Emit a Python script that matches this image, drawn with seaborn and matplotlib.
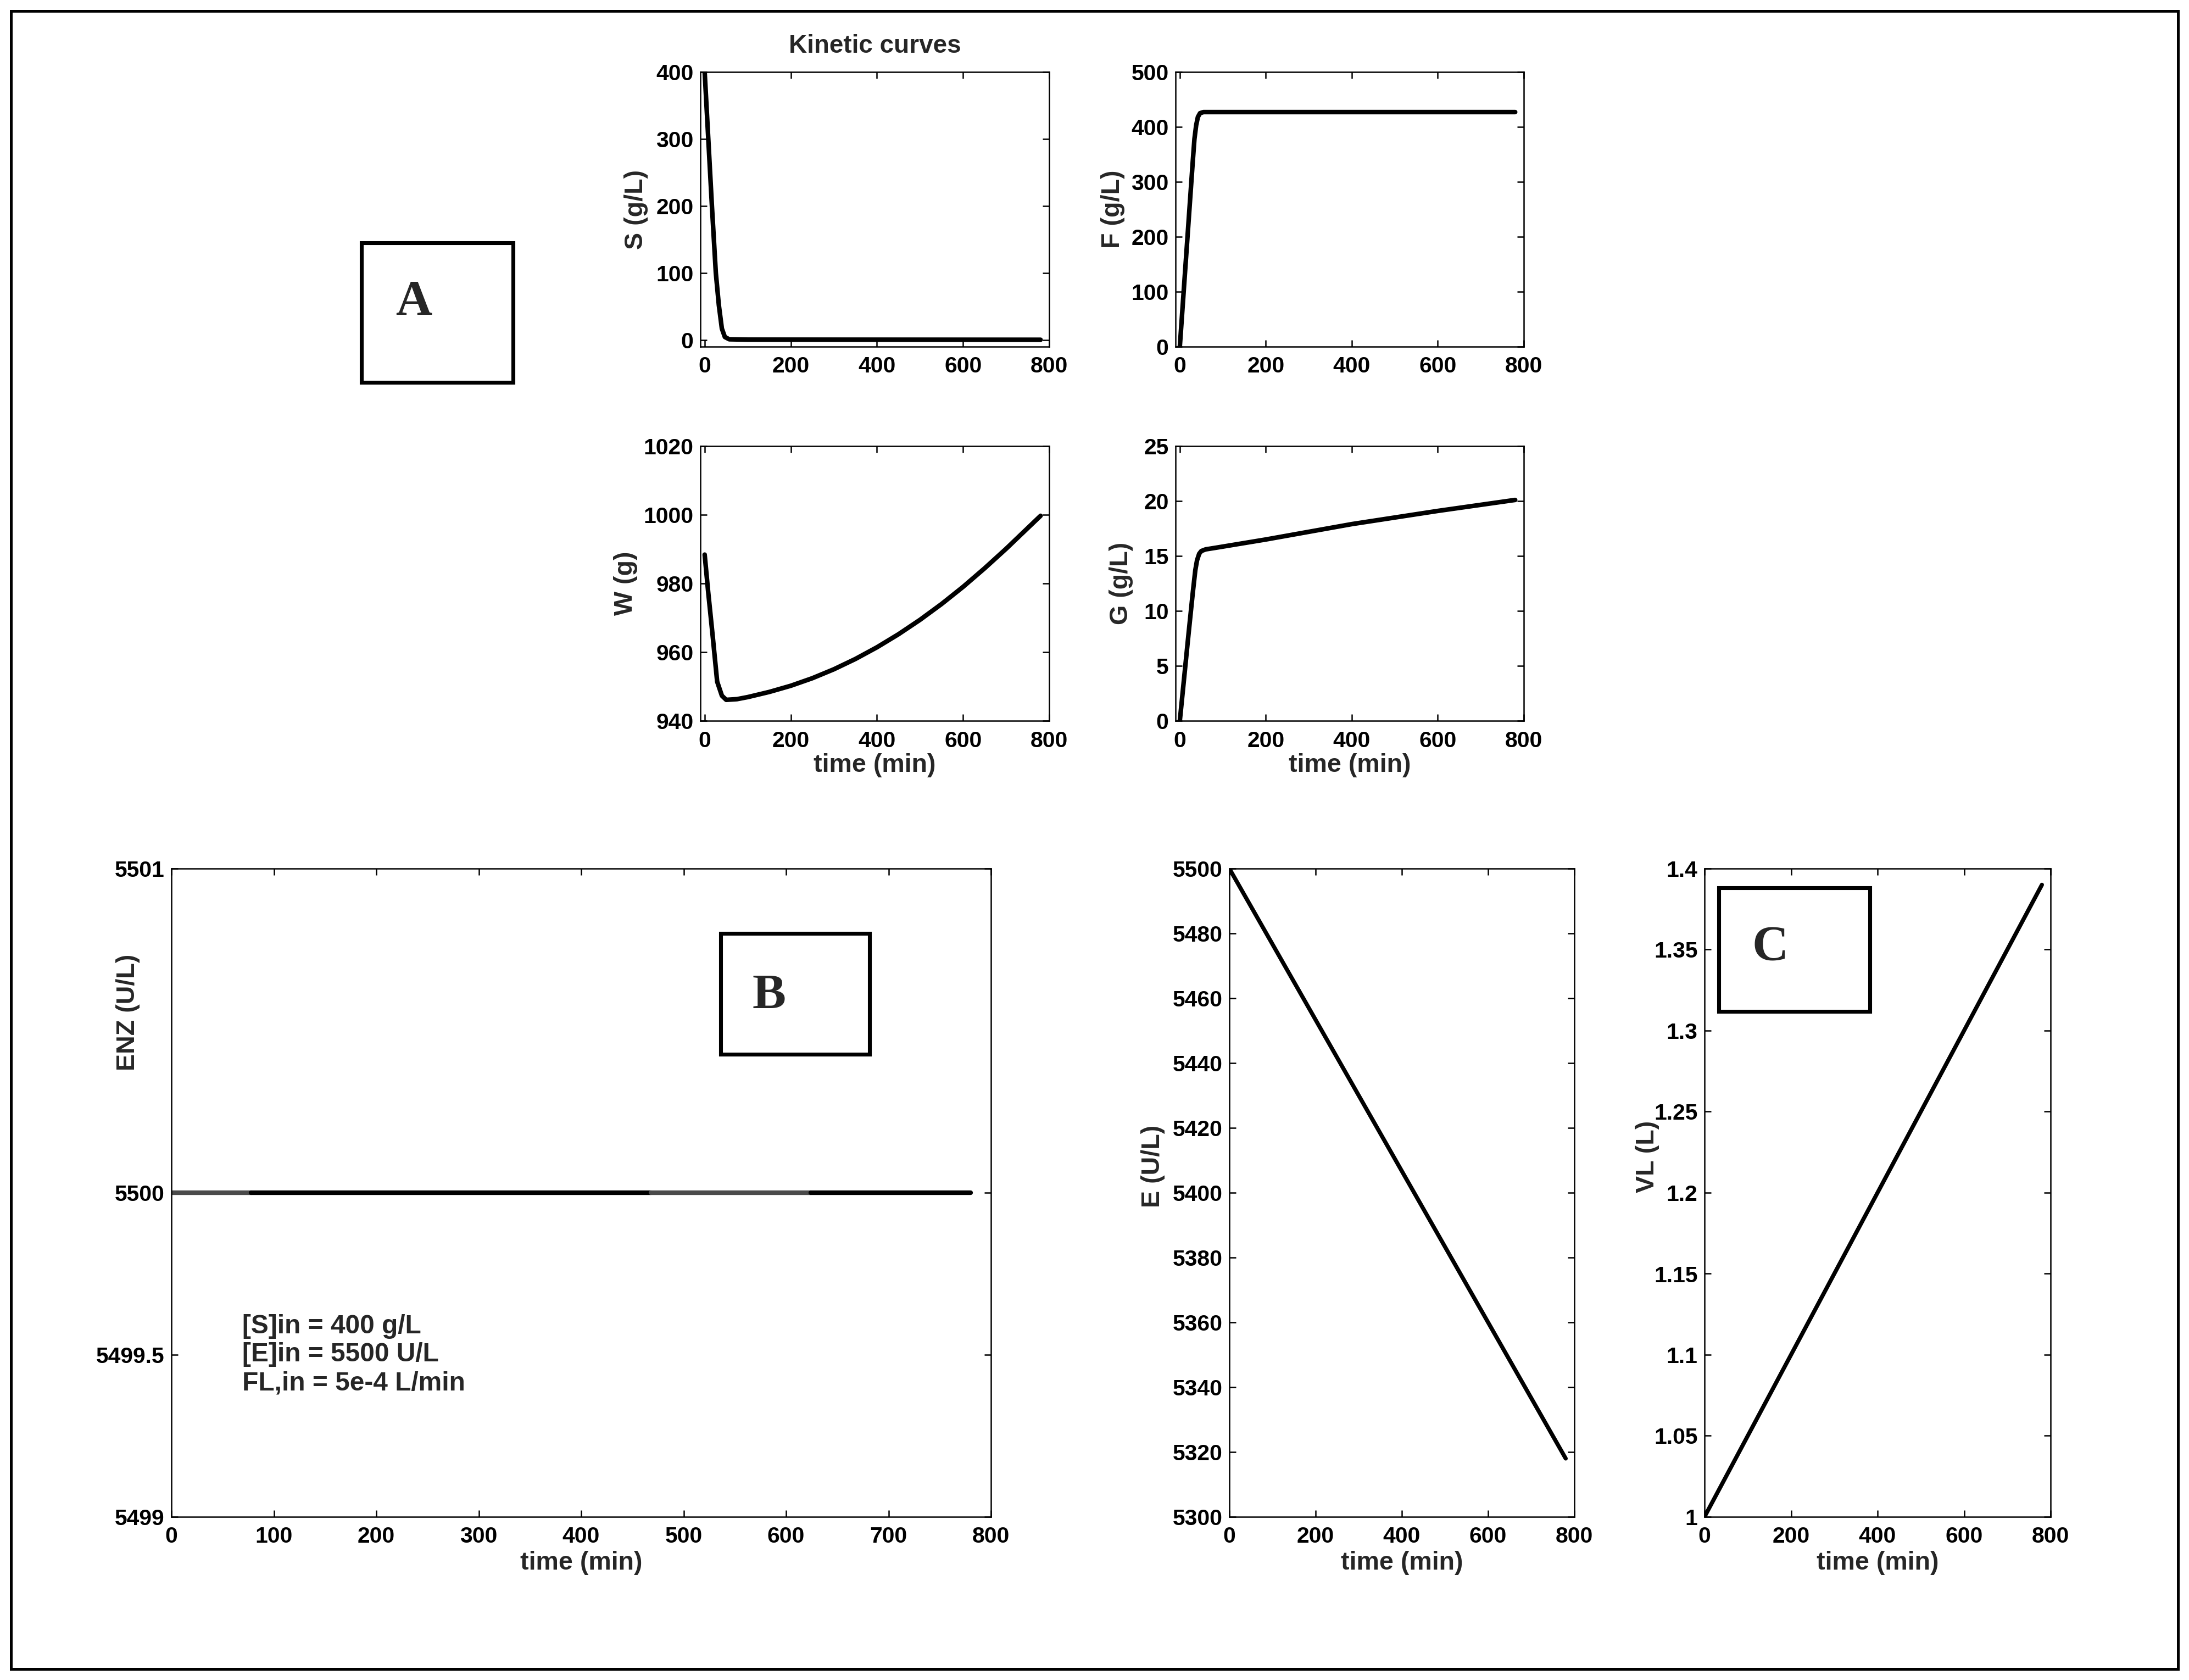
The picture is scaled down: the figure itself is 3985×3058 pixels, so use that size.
import numpy as np
import pandas as pd
import seaborn as sns
import matplotlib.pyplot as plt
from matplotlib.patches import Rectangle

# ---- data ----
# kinetic curves (time in min)
t_s = [0, 8.4, 16.8, 25.9, 32.9, 39.9, 46.9, 57, 100, 780]
s_vals = [400, 300, 200, 100, 52, 17, 4.4, 1.0, 0.5, 0.3]

t_f = [0, 10, 20, 30, 34, 38, 42, 47, 55, 780]
f_vals = [0, 112, 224, 336, 378, 403, 418, 425, 427, 427]

t_w = [0, 8, 19, 29, 40, 50, 75, 100, 150, 200, 250, 300, 350, 400, 450,
       500, 550, 600, 650, 700, 750, 780]
w_vals = [988.4, 977.7, 964.2, 951.4, 947.3, 946.1, 946.3, 946.9, 948.4, 950.2,
          952.4, 955.0, 958.0, 961.4, 965.2, 969.4, 974.0, 979.0, 984.4, 990.1,
          996.1, 999.7]

t_g = [0, 10, 20, 30, 36, 40, 45, 50, 60, 84, 200, 400, 600, 780]
g_vals = [0, 3.9, 7.8, 11.6, 13.7, 14.6, 15.2, 15.45, 15.6, 15.75, 16.5, 17.9, 19.1, 20.1]

# enzyme in feed (flat line, drawn in segments of different shade)
enz_t = [0, 78, 468, 624, 780]
enz_vals = [5500, 5500, 5500, 5500, 5500]
enz_colors = ["#4a4a4a", "black", "#4a4a4a", "black"]

# enzyme in reactor and liquid volume
t_e = [0, 780]
e_vals = [5500, 5318]
t_vl = [0, 780]
vl_vals = [1.0, 1.39]

# ticks
top_xticks = [0, 200, 400, 600, 800]
s_yticks = [0, 100, 200, 300, 400]
f_yticks = [0, 100, 200, 300, 400, 500]
w_yticks = [940, 960, 980, 1000, 1020]
g_yticks = [0, 5, 10, 15, 20, 25]
enz_xticks = [0, 100, 200, 300, 400, 500, 600, 700, 800]
enz_yticks = [5499, 5499.5, 5500, 5501]
e_xticks = [0, 200, 400, 600, 800]
e_yticks = [5300, 5320, 5340, 5360, 5380, 5400, 5420, 5440, 5460, 5480, 5500]
vl_yticks = [1, 1.05, 1.1, 1.15, 1.2, 1.25, 1.3, 1.35, 1.4]

feed_text = "[S]in = 400 g/L\n[E]in = 5500 U/L\nFL,in = 5e-4 L/min"

# ---- style ----
sns.set_theme(style="ticks")
NARROW = ["Liberation Sans Narrow", "Liberation Sans", "DejaVu Sans"]
WIDE = ["Liberation Sans", "DejaVu Sans"]
SERIF = ["Liberation Serif", "DejaVu Serif"]
plt.rcParams["font.family"] = NARROW
plt.rcParams["font.weight"] = "bold"

W, H = 3985, 3058
fig = plt.figure(figsize=(W / 300, H / 300), dpi=300)
fig.patch.set_facecolor("white")


def add_axes_px(left, top, right, bottom):
    return fig.add_axes([left / W, 1 - bottom / H, (right - left) / W, (bottom - top) / H])


def style(ax, xlim, xticks, ylim, yticks, ylabel, ylab_xy, xlabel=None, xlab_y=None):
    ax.set_xlim(xlim)
    ax.set_ylim(ylim)
    ax.set_xticks(xticks, labels=[f"{v:g}" for v in xticks])
    ax.set_yticks(yticks, labels=[f"{v:g}" for v in yticks])
    ax.tick_params(direction="in", length=2.9, width=0.6, top=True, right=True,
                   labelsize=9.8, colors="black")
    ax.tick_params(axis="x", pad=4.2)
    ax.tick_params(axis="y", pad=3)
    for lab in ax.get_xticklabels() + ax.get_yticklabels():
        lab.set_fontweight("bold")
    for sp in ax.spines.values():
        sp.set_visible(True)
        sp.set_linewidth(0.6)
        sp.set_color("black")
    ax.set_ylabel(ylabel, fontsize=11.2, fontweight="bold", family=WIDE, va="center")
    ax.yaxis.set_label_coords(*ylab_xy)
    if xlabel:
        ax.set_xlabel(xlabel, fontsize=11.2, fontweight="bold", va="center")
        ax.xaxis.set_label_coords(0.5, xlab_y)
    ax.grid(False)


def curve(ax, t, v, lw=2.0, color="black"):
    sns.lineplot(x=t, y=v, ax=ax, color=color, linewidth=lw, sort=False,
                 estimator=None, legend=False)


# ---- top block: kinetic curves ----
ax_s = add_axes_px(1275, 131, 1910, 631)
curve(ax_s, t_s, s_vals)
style(ax_s, (-10, 800), top_xticks, (-10, 400), s_yticks, "S (g/L)", (-0.184, 0.5))
ax_s.set_title("Kinetic curves", fontsize=11, fontweight="bold", y=1.095, va="center", pad=0)

ax_f = add_axes_px(2140, 131, 2774, 631)
curve(ax_f, t_f, f_vals)
style(ax_f, (-10, 800), top_xticks, (0, 500), f_yticks, "F (g/L)", (-0.18, 0.5))

ax_w = add_axes_px(1275, 812, 1910, 1312)
curve(ax_w, t_w, w_vals)
style(ax_w, (-10, 800), top_xticks, (940, 1020), w_yticks, "W (g)", (-0.214, 0.5),
      "time (min)", -0.162)

ax_g = add_axes_px(2140, 812, 2774, 1312)
curve(ax_g, t_g, g_vals)
style(ax_g, (-10, 800), top_xticks, (0, 25), g_yticks, "G (g/L)", (-0.156, 0.5),
      "time (min)", -0.162)

# ---- bottom block ----
ax_enz = add_axes_px(312, 1581, 1804, 2761)
for i, c in enumerate(enz_colors):
    curve(ax_enz, enz_t[i:i + 2], enz_vals[i:i + 2], lw=2.0, color=c)
style(ax_enz, (0, 800), enz_xticks, (5499, 5501), enz_yticks, "ENZ (U/L)", (-0.053, 0.778),
      "time (min)", -0.071)
ax_enz.text(69, 5499.5, feed_text, fontsize=11.5, fontweight="bold", ha="left",
            va="center", linespacing=1.19)

ax_e = add_axes_px(2238, 1581, 2866, 2761)
curve(ax_e, t_e, e_vals, lw=1.8)
style(ax_e, (0, 800), e_xticks, (5300, 5500), e_yticks, "E (U/L)", (-0.221, 0.541),
      "time (min)", -0.071)

ax_vl = add_axes_px(3103, 1581, 3733, 2761)
curve(ax_vl, t_vl, vl_vals, lw=1.8)
style(ax_vl, (0, 800), e_xticks, (1, 1.4), vl_yticks, "VL (L)", (-0.165, 0.556),
      "time (min)", -0.071)

# ---- panel tags in framed boxes ----
def tag(letter, left, top, right, bottom, cx, base):
    fig.add_artist(Rectangle((left / W, 1 - bottom / H), (right - left) / W, (bottom - top) / H,
                             transform=fig.transFigure, fill=False, edgecolor="black",
                             linewidth=1.7))
    fig.text(cx / W, 1 - base / H, letter, fontsize=22, fontweight="bold", family=SERIF,
             ha="center", va="baseline")


tag("A", 658, 442, 934, 696, 753, 573)
tag("B", 1312, 1699, 1583, 1919, 1400, 1836)
tag("C", 3129, 1616, 3404, 1841, 3223, 1748)

# outer frame
fig.add_artist(Rectangle((20 / W, 20 / H), 1 - 40 / W, 1 - 40 / H, transform=fig.transFigure,
                         fill=False, edgecolor="black", linewidth=1.2))

fig.savefig("out.png", dpi=300, facecolor="white")
